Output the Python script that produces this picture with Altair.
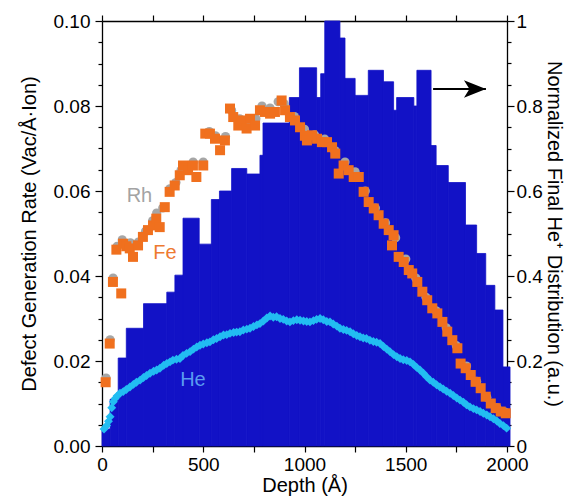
import altair as alt
import pandas as pd

# ---------------- data ----------------
# Histogram of final He+ distribution (right axis, normalized)
bin_left = [0, 40, 80, 120, 205, 320, 360, 400, 480, 540, 580, 640, 715, 780, 795,
            925, 975, 1060, 1080, 1100, 1175, 1200, 1250, 1315, 1390, 1440, 1455,
            1540, 1555, 1625, 1650, 1710, 1795, 1850, 1895, 1940, 1980]
bin_right = bin_left[1:] + [2015]
bin_height = [0.04, 0.11, 0.207, 0.277, 0.335, 0.362, 0.402, 0.536, 0.475, 0.58, 0.60,
              0.653, 0.64, 0.684, 0.76, 0.82, 0.89, 0.82, 0.876, 1.0, 0.96, 0.865,
              0.825, 0.884, 0.857, 0.79, 0.82, 0.80, 0.884, 0.707, 0.66, 0.62, 0.52,
              0.453, 0.378, 0.32, 0.186]

# Fe defect generation rate
fe_depth = [18, 38, 54, 71, 95, 104, 120, 137, 153, 178, 202, 227, 252, 268, 285, 310,
            334, 359, 384, 400, 425, 449, 466, 500, 510, 533, 558, 583, 607, 632, 648,
            673, 690, 714, 731, 756, 780, 805, 830, 854, 887, 904, 928, 953, 978, 1002,
            1012, 1037, 1062, 1086, 1111, 1136, 1152, 1169, 1193, 1218, 1243, 1268,
            1292, 1317, 1342, 1366, 1391, 1416, 1432, 1440, 1465, 1490, 1515, 1532,
            1557, 1582, 1606, 1631, 1656, 1681, 1705, 1730, 1755, 1771, 1796, 1821,
            1845, 1870, 1895, 1920, 1944, 1969, 1994]
fe_rate = [0.0150, 0.0241, 0.0386, 0.0462, 0.0359, 0.0476, 0.0470, 0.0465, 0.0445,
           0.0472, 0.0492, 0.0508, 0.0519, 0.0535, 0.0515, 0.0562, 0.0598, 0.0613,
           0.0637, 0.0660, 0.0649, 0.0660, 0.0633, 0.0660, 0.0735, 0.0735, 0.0723,
           0.0696, 0.0719, 0.0794, 0.0774, 0.0754, 0.0766, 0.0747, 0.0770, 0.0754,
           0.0790, 0.0786, 0.0782, 0.0786, 0.0813, 0.0790, 0.0774, 0.0766, 0.0750,
           0.0730, 0.0719, 0.0731, 0.0723, 0.0715, 0.0715, 0.0703, 0.0688, 0.0641,
           0.0660, 0.0649, 0.0633, 0.0633, 0.0598, 0.0574, 0.0559, 0.0543, 0.0523,
           0.0508, 0.0472, 0.0496, 0.0445, 0.0433, 0.0414, 0.0406, 0.0386, 0.0363,
           0.0343, 0.0324, 0.0312, 0.0292, 0.0269, 0.0249, 0.0230, 0.0194, 0.0183,
           0.0167, 0.0151, 0.0136, 0.0116, 0.0100, 0.0089, 0.0081, 0.0077]

# Rh defect generation rate
rh_depth = [20, 40, 55, 75, 100, 140, 180, 215, 250, 270, 300, 335, 365, 390, 420, 450,
            500, 530, 560, 610, 640, 680, 720, 760, 790, 830, 870, 900, 950, 1000, 1050,
            1100, 1150, 1200, 1250, 1300, 1350, 1400, 1450, 1500, 1550, 1600, 1650,
            1700, 1750, 1800, 1850, 1900, 1950, 1990]
rh_rate = [0.0160, 0.0250, 0.0395, 0.0470, 0.0485, 0.0478, 0.0480, 0.0505, 0.0530,
           0.0548, 0.0560, 0.0605, 0.0620, 0.0648, 0.0660, 0.0668, 0.0668, 0.0740,
           0.0730, 0.0728, 0.0790, 0.0770, 0.0760, 0.0770, 0.0800, 0.0795, 0.0810,
           0.0805, 0.0775, 0.0745, 0.0732, 0.0722, 0.0695, 0.0668, 0.0645, 0.0600,
           0.0560, 0.0525, 0.0490, 0.0440, 0.0395, 0.0350, 0.0318, 0.0278, 0.0236,
           0.0188, 0.0152, 0.0115, 0.0090, 0.0080]

# He defect generation rate
he_depth = [10, 23, 32, 40, 48, 56, 65, 75, 89, 105, 120, 138, 155, 170, 188, 205, 220,
            237, 255, 270, 286, 305, 320, 336, 350, 368, 385, 400, 418, 435, 452, 468,
            484, 500, 518, 533, 550, 566, 583, 600, 616, 632, 650, 665, 681, 698, 715,
            731, 748, 765, 780, 797, 814, 830, 846, 862, 879, 895, 912, 928, 945, 962,
            978, 995, 1011, 1027, 1044, 1060, 1077, 1093, 1110, 1126, 1142, 1160, 1175,
            1192, 1208, 1225, 1241, 1258, 1274, 1290, 1306, 1323, 1340, 1356, 1373,
            1390, 1406, 1422, 1440, 1456, 1472, 1488, 1505, 1521, 1538, 1554, 1570,
            1587, 1603, 1620, 1636, 1652, 1669, 1685, 1702, 1719, 1735, 1752, 1768,
            1785, 1800, 1817, 1834, 1850, 1867, 1883, 1900, 1916, 1933, 1950, 1965,
            1982, 1998]
he_rate = [0.0040, 0.0048, 0.0058, 0.0069, 0.0090, 0.0104, 0.0112, 0.0118, 0.0124,
           0.0128, 0.0133, 0.0139, 0.0145, 0.0150, 0.0155, 0.0161, 0.0166, 0.0171,
           0.0176, 0.0179, 0.0183, 0.0190, 0.0194, 0.0198, 0.0202, 0.0204, 0.0206,
           0.0213, 0.0218, 0.0222, 0.0228, 0.0233, 0.0237, 0.0240, 0.0243, 0.0245,
           0.0250, 0.0253, 0.0257, 0.0261, 0.0262, 0.0265, 0.0267, 0.0268, 0.0269,
           0.0273, 0.0275, 0.0277, 0.0281, 0.0285, 0.0288, 0.0294, 0.0301, 0.0306,
           0.0303, 0.0304, 0.0300, 0.0298, 0.0294, 0.0292, 0.0295, 0.0297, 0.0296,
           0.0294, 0.0293, 0.0292, 0.0295, 0.0298, 0.0300, 0.0297, 0.0293, 0.0292,
           0.0287, 0.0282, 0.0277, 0.0274, 0.0272, 0.0269, 0.0264, 0.0260, 0.0257,
           0.0254, 0.0253, 0.0249, 0.0246, 0.0244, 0.0241, 0.0234, 0.0228, 0.0222,
           0.0215, 0.0210, 0.0206, 0.0203, 0.0201, 0.0198, 0.0192, 0.0185, 0.0179,
           0.0171, 0.0163, 0.0155, 0.0150, 0.0144, 0.0139, 0.0134, 0.0129, 0.0124,
           0.0119, 0.0113, 0.0108, 0.0103, 0.0097, 0.0092, 0.0088, 0.0085, 0.0081,
           0.0077, 0.0073, 0.0069, 0.0064, 0.0059, 0.0053, 0.0048, 0.0042]

# series labels (text, depth, rate, colour)
label_text = ["Rh", "Fe", "He"]
label_depth = [185, 311, 449]
label_rate = [0.0588, 0.0454, 0.0155]
label_color = ["#a3a3a3", "#ee7a30", "#5a9cf0"]

# arrow pointing to the right axis
arrow_from = [1635]
arrow_to = [1896]
arrow_rate = [0.0840]

x_ticks = list(range(0, 2001, 250))
yl_ticks = [round(i * 0.005, 3) for i in range(21)]
yr_ticks = [round(i * 0.05, 2) for i in range(21)]

# ---------------- styling ----------------
FONT = "Liberation Sans"
BAR = "#1212c6"
FE = "#f0701e"
RH = "#a6a6a6"
HE = "#22bdf2"

bars_df = pd.DataFrame({"x0": bin_left, "x1": bin_right, "h": bin_height,
                        "base": [0.0] * len(bin_left)})
fe_df = pd.DataFrame({"d": fe_depth, "r": fe_rate})
rh_df = pd.DataFrame({"d": rh_depth, "r": rh_rate})
he_df = pd.DataFrame({"d": he_depth, "r": he_rate})
lab_df = pd.DataFrame({"t": label_text, "d": label_depth, "r": label_rate, "c": label_color})
arr_df = pd.DataFrame({"a": arrow_from, "b": arrow_to, "r": arrow_rate})

x_scale = alt.Scale(domain=[0, 2000], nice=False, zero=False)
yl_scale = alt.Scale(domain=[0, 0.1], nice=False)
yr_scale = alt.Scale(domain=[0, 1], nice=False)

common_axis = dict(labelFont=FONT, titleFont=FONT, labelFontSize=19, titleFontSize=20,
                   titleFontWeight="normal", labelColor="black", titleColor="black",
                   domainColor="black", tickColor="black", domainWidth=1.3, tickWidth=1.2,
                   grid=False, labelFlush=False, labelOverlap=False)

bottom_axis = alt.Axis(orient="bottom", values=x_ticks, title="Depth (Å)",
                       labelExpr="datum.value % 500 == 0 ? format(datum.value, 'd') : ''",
                       tickSize=6, labelPadding=3, titlePadding=1, **common_axis)
top_axis = alt.Axis(orient="top", values=x_ticks, labels=False, title=None,
                    tickSize=6, **common_axis)
left_axis = alt.Axis(orient="left", values=yl_ticks,
                     title="Defect Generation Rate (Vac/Å·Ion)",
                     labelExpr="abs(datum.value*50 - round(datum.value*50)) < 1e-6 ? format(datum.value, '.2f') : ''",
                     tickSize={"condition": {"test": "abs(datum.value*50 - round(datum.value*50)) < 1e-6", "value": 7}, "value": 4},
                     labelPadding=5, titlePadding=14, **common_axis)
right_axis = alt.Axis(orient="right", values=yr_ticks,
                      title="Normalized Final He⁺ Distribution (a.u.)",
                      labelExpr="abs(datum.value*5 - round(datum.value*5)) < 1e-6 ? format(datum.value, '.1~f') : ''",
                      tickSize={"condition": {"test": "abs(datum.value*5 - round(datum.value*5)) < 1e-6", "value": 7}, "value": 4},
                      labelPadding=2, titlePadding=1, **common_axis)

bars = alt.Chart(bars_df).mark_rect(color=BAR, stroke=BAR, strokeWidth=0.8, clip=False).encode(
    x=alt.X("x0:Q", scale=x_scale, axis=bottom_axis),
    x2="x1:Q",
    y=alt.Y("h:Q", scale=yr_scale, axis=right_axis),
    y2="base:Q",
)


def xl(field):
    return alt.X(field, scale=x_scale, axis=top_axis)


def yl(field):
    return alt.Y(field, scale=yl_scale, axis=left_axis)


rh = alt.Chart(rh_df).mark_point(shape="circle", filled=True, size=85, color=RH, opacity=1).encode(
    x=xl("d:Q"), y=yl("r:Q"))
fe = alt.Chart(fe_df).mark_point(shape="square", filled=True, size=100, color=FE, opacity=1).encode(
    x=xl("d:Q"), y=yl("r:Q"))
he = alt.Chart(he_df).mark_point(shape="diamond", filled=True, size=80, color=HE, opacity=1).encode(
    x=xl("d:Q"), y=yl("r:Q"))
labels = alt.Chart(lab_df).mark_text(font=FONT, fontSize=20, align="center", baseline="middle").encode(
    x=xl("d:Q"), y=yl("r:Q"),
    text="t:N",
    color=alt.Color("c:N", scale=None),
)
arrow_line = alt.Chart(arr_df).mark_rule(color="black", strokeWidth=2).encode(
    x=xl("a:Q"), x2="b:Q", y=yl("r:Q"))
arrow_head = alt.Chart(arr_df).mark_point(
    shape="M 1 0 L -1 -0.8 L -0.5 0 L -1 0.8 Z", filled=True, size=484,
    color="black", opacity=1, xOffset=-11).encode(
    x=xl("b:Q"), y=yl("r:Q"))

left_group = alt.layer(rh, fe, he, labels, arrow_line, arrow_head)

chart = alt.layer(bars, left_group).resolve_scale(y="independent").resolve_axis(
    x="independent", y="independent"
).properties(
    width=405, height=425,
    padding={"left": 102, "top": 21, "right": 67, "bottom": 51},
    autosize="none",
    background="white",
).configure_view(stroke=None)

chart.save("out.html", embed_options={"renderer": "svg", "actions": False})
